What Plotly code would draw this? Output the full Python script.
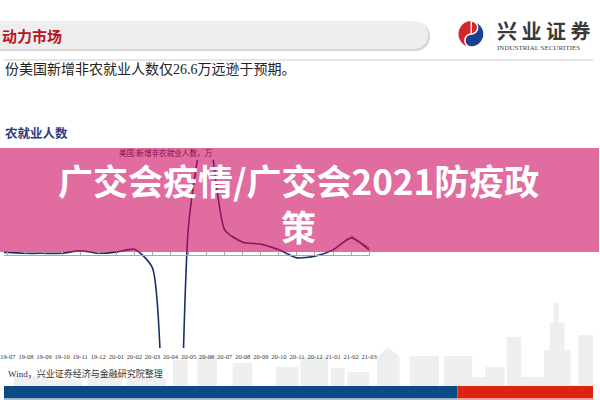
import numpy as np
import plotly.graph_objects as go

W, H = 600, 400

# ---- data (万人) ----
months = ["19-06", "19-07", "19-08", "19-09", "19-10", "19-11", "19-12",
          "20-01", "20-02", "20-03", "20-04", "20-05", "20-06", "20-07",
          "20-08", "20-09", "20-10", "20-11", "20-12", "21-01", "21-02", "21-03"]
nonfarm = [9, 9, 6, 6, 6, 15, 6,
           10, 20, -45, -2050, 105, 480, 88,
           45, 38, 18, -10, -4, 18, 60, 18]
expect_months = ["21-02", "21-03"]
expect_vals = [67, 25]
tick_labels = months[1:]

SERIF = "Liberation Serif, Noto Sans CJK SC"
SANS = "Noto Sans CJK SC"


def px(x):
    return x / W


def py(y):
    return 1 - y / H


def poly_path(pts):
    s = "M " + " L ".join(f"{px(a):.5f},{py(b):.5f}" for a, b in pts)
    return s + " Z"


shapes = []

# header bar with rounded right end (shadow + bar)
def header_pts(x0, x1, y0, y1):
    r = (y1 - y0) / 2
    cx, cy = x1 - r, (y0 + y1) / 2
    pts = [(x0, y0), (cx, y0)]
    for t in np.linspace(-np.pi / 2, np.pi / 2, 20):
        pts.append((cx + r * np.cos(t), cy + r * np.sin(t)))
    pts.append((x0, y1))
    return pts

shapes.append(dict(type="path", xref="paper", yref="paper", layer="below",
                   path=poly_path(header_pts(-10, 434, 22, 51)),
                   fillcolor="#D6D6D6", line=dict(width=0)))
shapes.append(dict(type="path", xref="paper", yref="paper", layer="below",
                   path=poly_path(header_pts(-10, 432, 21, 49)),
                   fillcolor="#EEEEEE", line=dict(width=0)))
# divider line
shapes.append(dict(type="line", xref="paper", yref="paper", layer="below",
                   x0=0, x1=1, y0=py(60), y1=py(60),
                   line=dict(color="#DEDEDE", width=1.5)))

# logo
cx, cy, r = 476, 34, 13
circ = [(cx + r * np.cos(t), cy + r * np.sin(t)) for t in np.linspace(0, 2 * np.pi, 48)]
shapes.append(dict(type="path", xref="paper", yref="paper", path=poly_path(circ),
                   fillcolor="#D7262B", line=dict(width=0)))
blue = []
for t in np.linspace(-np.pi / 2, np.pi / 2, 24):          # outer right arc top->bottom
    blue.append((cx + r * np.cos(t), cy + r * np.sin(t)))
for t in np.linspace(np.pi / 2, 3 * np.pi / 2, 12):       # lower small arc bulging left
    blue.append((cx + r / 2 * np.cos(t), cy + r / 2 + r / 2 * np.sin(t)))
for t in np.linspace(np.pi / 2, -np.pi / 2, 12):          # upper small arc bulging right
    blue.append((cx + r / 2 * np.cos(t), cy - r / 2 - r / 2 * np.sin(t)))
shapes.append(dict(type="path", xref="paper", yref="paper", path=poly_path(blue),
                   fillcolor="#1B3F8C", line=dict(color="white", width=1.5)))

# skyline silhouettes
bld = [(10, 45, 376), (45, 80, 380), (85, 120, 373), (125, 165, 378),
       (172, 187, 360), (197, 217, 355), (233, 253, 363), (277, 300, 367),
       (302, 330, 357), (333, 347, 368), (350, 372, 372), (380, 403, 357),
       (413, 443, 356), (448, 477, 356), (477, 490, 377), (490, 510, 367),
       (512, 527, 337), (527, 550, 377), (550, 577, 350), (556, 571, 323),
       (560, 565, 303), (577, 585, 385), (585, 600, 335)]
for x0, x1, yt in bld:
    shapes.append(dict(type="rect", xref="paper", yref="paper", layer="below",
                       x0=px(x0), x1=px(x1), y0=py(386), y1=py(yt),
                       fillcolor="#EFEFEF", line=dict(width=0)))
shapes.append(dict(type="path", xref="paper", yref="paper", layer="below",
                   path=poly_path([(380, 357), (391.5, 347), (403, 357)]),
                   fillcolor="#EFEFEF", line=dict(width=0)))

# bottom colour bars
for x0, x1, y0, y1, c in [(0, 462, 386, 398.5, "#0B4A84"), (462, 600, 386, 398.5, "#DD2410"),
                          (0, 462, 398.5, 400, "#9EC3E3"), (462, 600, 398.5, 400, "#F4A79C")]:
    shapes.append(dict(type="rect", xref="paper", yref="paper",
                       x0=px(x0), x1=px(x1), y0=py(y1), y1=py(y0),
                       fillcolor=c, line=dict(width=0)))

fig = go.Figure()
fig.add_trace(go.Scatter(x=months, y=nonfarm, mode="lines",
                         line=dict(color="#1B2F66", width=1.6, shape="spline", smoothing=0.6),
                         hoverinfo="skip", xaxis="x", yaxis="y"))
fig.add_trace(go.Scatter(x=expect_months, y=expect_vals, mode="lines",
                         line=dict(color="#D7262B", width=1),
                         hoverinfo="skip", xaxis="x2", yaxis="y"))

xr = [0.7826, 21.038]
dom_x = [0, px(372.7)]
annotations = [
    dict(text="<b>动力市场</b>", x=px(-4), y=py(36), xanchor="left", yanchor="middle",
         font=dict(family=SANS, size=15, color="#BA141C")),
    dict(text="<b>兴 业 证 券</b>", x=px(500), y=py(30.5), xanchor="left", yanchor="middle",
         font=dict(family=SANS, size=20, color="#3A3A3A")),
    dict(text="INDUSTRIAL SECURITIES", x=px(500), y=py(47.5), xanchor="left", yanchor="middle",
         font=dict(family="Liberation Serif", size=7, color="#444444")),
    dict(text="份美国新增非农就业人数仅26.6万远逊于预期。", x=px(-1), y=py(69),
         xanchor="left", yanchor="middle", font=dict(family=SERIF, size=14, color="#222222")),
    dict(text="<b>农就业人数</b>", x=px(-1), y=py(132), xanchor="left", yanchor="middle",
         font=dict(family=SANS, size=12.5, color="#2E3B7E")),
    dict(text="美国:新增非农就业人数，万", x=px(165), y=py(153), xanchor="center", yanchor="middle",
         font=dict(family=SERIF, size=7.6, color="#222222")),
    dict(text="Wind，兴业证券经济与金融研究院整理", x=px(2), y=py(373), xanchor="left",
         yanchor="middle", font=dict(family=SERIF, size=9, color="#333333")),
    dict(text=" ", x=0.5, y=py(200), xanchor="center", yanchor="middle", width=600, height=104,
         bgcolor="rgba(203,10,97,0.6)", borderpad=0, borderwidth=0,
         font=dict(size=10)),
    dict(text="<b>广交会疫情/广交会2021防疫政<br>策</b>", x=0.5, y=py(202), xanchor="center",
         yanchor="middle", font=dict(family=SANS, size=35, color="white")),
]
for a in annotations:
    a.update(xref="paper", yref="paper", showarrow=False)

fig.update_layout(
    width=W, height=H, margin=dict(l=0, r=0, t=0, b=0),
    paper_bgcolor="white", plot_bgcolor="rgba(0,0,0,0)", showlegend=False,
    shapes=shapes, annotations=annotations,
    xaxis=dict(domain=dom_x, type="category", categoryarray=months, range=xr,
               showgrid=False, zeroline=False, showline=False, ticks="",
               tickmode="array", tickvals=tick_labels, ticktext=tick_labels,
               tickangle=0, ticklabelstandoff=3,
               tickfont=dict(family="Liberation Serif", size=6.5, color="#333333")),
    xaxis2=dict(domain=dom_x, type="category", categoryarray=months, range=xr,
                overlaying="x", anchor="free", position=py(255), side="top",
                showgrid=False, zeroline=False, showline=True, linecolor="#A8A8A8", linewidth=1,
                ticks="outside", ticklen=3, tickcolor="#A8A8A8", tickwidth=1,
                tickmode="array", tickvals=tick_labels, showticklabels=False),
    yaxis=dict(domain=[py(348), py(160)], range=[-325.5, 332.5], visible=False),
)

fig.write_html("out.html", config={"displayModeBar": False},
               post_script="document.body.style.margin='0px';document.body.style.overflow='hidden';")
